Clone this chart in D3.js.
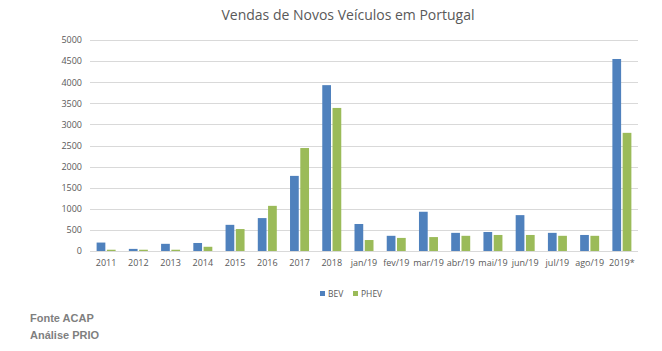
<!DOCTYPE html>
<html>
<head>
<meta charset="utf-8">
<script src="https://cdn.jsdelivr.net/npm/d3@7"></script>
<style>
  body { margin: 0; background: #fff; }
  svg { display: block; }
</style>
</head>
<body>
<svg id="chart"></svg>
<script>
const categories = ["2011", "2012", "2013", "2014", "2015", "2016", "2017", "2018",
    "jan/19", "fev/19", "mar/19", "abr/19", "mai/19", "jun/19", "jul/19", "ago/19", "2019*"];
const bev = [200, 50, 170, 190, 620, 780, 1780, 3930, 640, 360, 930, 430, 450, 850, 430, 380, 4550];
const phev = [30, 30, 30, 100, 520, 1070, 2440, 3390, 260, 310, 330, 360, 380, 380, 360, 360, 2800];
const yTicks = [0, 500, 1000, 1500, 2000, 2500, 3000, 3500, 4000, 4500, 5000];
const seriesNames = ["BEV", "PHEV"];
const colors = ["#4f81bd", "#9bbb59"];

const width = 662, height = 351;
const margin = { top: 40, left: 90, right: 24, bottom: 100 };

const svg = d3.select("#chart")
    .attr("width", width)
    .attr("height", height);

const x = d3.scaleBand()
    .domain(categories)
    .range([margin.left, width - margin.right]);

const x1 = d3.scaleBand()
    .domain(seriesNames)
    .range([0, 19])
    .paddingInner(0.15);

const y = d3.scaleLinear()
    .domain([0, 5000])
    .range([height - margin.bottom, margin.top]);

// gridlines
svg.append("g")
    .selectAll("line")
    .data(yTicks)
    .join("line")
    .attr("x1", margin.left)
    .attr("x2", width - margin.right)
    .attr("y1", d => Math.round(y(d)) + 0.5)
    .attr("y2", d => Math.round(y(d)) + 0.5)
    .attr("stroke", "#d9d9d9")
    .attr("stroke-width", 1);

// y axis labels
const yAxis = d3.axisLeft(y).tickValues(yTicks).tickFormat(d3.format("d")).tickSize(0).tickPadding(8);
svg.append("g")
    .attr("transform", `translate(${margin.left},0)`)
    .call(yAxis)
    .call(g => g.select(".domain").remove())
    .selectAll("text")
    .attr("fill", "#595959")
    .style("font-family", "'Open Sans', sans-serif")
    .style("font-size", "9px");

// x axis labels
const xAxis = d3.axisBottom(x).tickSize(0).tickPadding(9);
svg.append("g")
    .attr("transform", `translate(0,${height - margin.bottom})`)
    .call(xAxis)
    .call(g => g.select(".domain").remove())
    .selectAll("text")
    .attr("fill", "#595959")
    .style("font-family", "'Open Sans', sans-serif")
    .style("font-size", "9px");

// bars
const rows = categories.map((c, i) => ({ cat: c, values: [bev[i], phev[i]] }));
const groups = svg.append("g")
    .selectAll("g")
    .data(rows)
    .join("g")
    .attr("transform", d => `translate(${x(d.cat) + x.bandwidth() / 2 - 9.5},0)`);

groups.selectAll("rect")
    .data(d => d.values.map((v, j) => ({ name: seriesNames[j], value: v, color: colors[j] })))
    .join("rect")
    .attr("x", d => x1(d.name))
    .attr("width", x1.bandwidth())
    .attr("y", d => y(d.value))
    .attr("height", d => y(0) - y(d.value))
    .attr("fill", d => d.color);

// title
svg.append("text")
    .attr("x", 348)
    .attr("y", 20)
    .attr("text-anchor", "middle")
    .attr("fill", "#595959")
    .style("font-family", "'Open Sans', sans-serif")
    .style("font-size", "14px")
    .text("Vendas de Novos Veículos em Portugal");

// legend
const legend = svg.append("g").attr("transform", "translate(320,291)");
const legendX = [0, 33];
seriesNames.forEach((name, i) => {
    legend.append("rect")
        .attr("x", legendX[i])
        .attr("y", 0)
        .attr("width", 5)
        .attr("height", 5)
        .attr("fill", colors[i]);
    legend.append("text")
        .attr("x", legendX[i] + 8)
        .attr("y", 5.5)
        .attr("fill", "#595959")
        .style("font-family", "'Open Sans', sans-serif")
        .style("font-size", "8.5px")
        .text(name);
});

// footer
const footer = ["Fonte ACAP", "Análise PRIO"];
svg.append("g")
    .selectAll("text")
    .data(footer)
    .join("text")
    .attr("x", 30)
    .attr("y", (d, i) => 322 + i * 17)
    .attr("fill", "#7f7f7f")
    .style("font-family", "'Liberation Sans', Arial, sans-serif")
    .style("font-weight", "bold")
    .style("font-size", "11px")
    .text(d => d);
</script>
</body>
</html>
